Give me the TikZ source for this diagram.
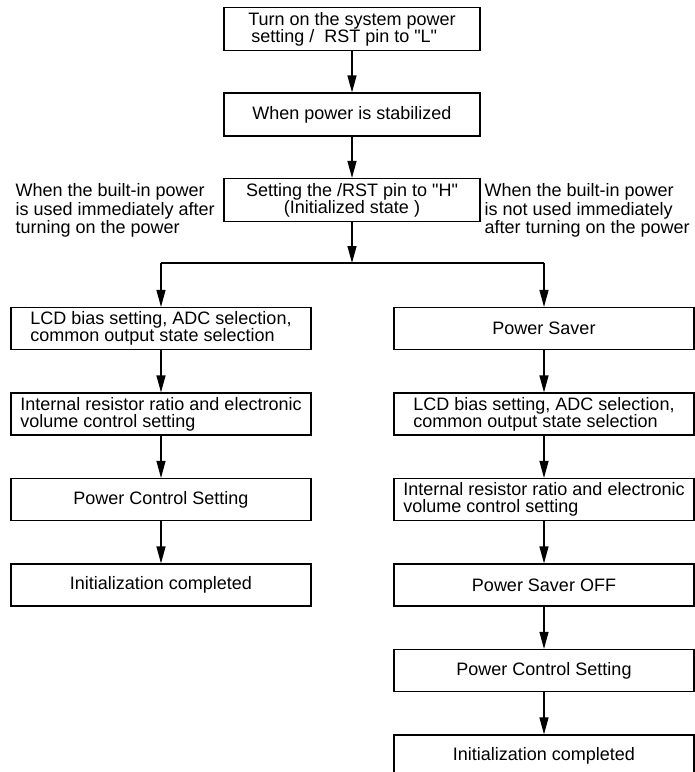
\documentclass[tikz,border=0pt]{standalone}
\usepackage{fontspec}
\setmainfont{Liberation Sans}
\usetikzlibrary{arrows.meta, positioning}

\begin{document}
\begin{tikzpicture}[
  x=0.5pt, y=-0.5pt, line width=0.6pt,
  every node/.style={font=\fontsize{9}{8.6}\selectfont},
  mainbox/.style={draw, minimum width=128pt, minimum height=21.5pt,
                  inner sep=2pt, align=center},
  colbox/.style={draw, minimum width=150pt, minimum height=21pt,
                 inner sep=2pt, align=center},
  note/.style={anchor=north west, inner sep=0pt, align=left,
               font=\fontsize{9}{9.2}\selectfont},
  >={Triangle[length=8.5pt, width=4.5pt]}
]
\useasboundingbox (0,0) rectangle (695,772);

% Common start
\node[mainbox, align=left] (poweron) at (352, 29)
  {Turn on the system power\\\hspace{1.5pt}setting /\ \ RST pin to \textquotedbl L\textquotedbl};
\node[mainbox] (stable) at (352, 114.5) {When power is stabilized};
\node[mainbox] (reset) at (352, 200)
  {Setting the /RST pin to \textquotedbl H\textquotedbl\\(Initialized state )};

\node[note] (usednote) at (15, 183)
  {When the built-in power\\is used immediately after\\turning on the power};
\node[note] (unusednote) at (484, 183)
  {When the built-in power\\is not used immediately\\after turning on the power};

% Branch point
\coordinate (split)  at (352, 263);
\coordinate (splitL) at (161, 263);
\coordinate (splitR) at (544, 263);

% Left branch
\node[colbox, align=left] (lcdL) at (161, 328.5)
  {LCD bias setting, ADC selection,\\common output state selection};
\node[colbox, align=left] (volL) at (161, 414)
  {Internal resistor ratio and electronic\\volume control setting};
\node[colbox] (pctrlL) at (161, 499.5) {Power Control Setting};
\node[colbox] (doneL)  at (161, 585) {Initialization completed};

% Right branch
\node[colbox] (saver) at (544, 328.5) {Power Saver};
\node[colbox, align=left] (lcdR) at (544, 414)
  {LCD bias setting, ADC selection,\\common output state selection};
\node[colbox, align=left] (volR) at (544, 499.5)
  {Internal resistor ratio and electronic\\volume control setting};
\node[colbox] (saveroff) at (544, 585) {Power Saver OFF};
\node[colbox] (pctrlR)   at (544, 670.5) {Power Control Setting};
\node[colbox] (doneR)    at (544, 756) {Initialization completed};

% Connectors
\draw[->] (reset) -- (split);
\draw (splitL) -- (splitR);
\draw[->] (splitL) -- (lcdL);
\draw[->] (splitR) -- (saver);

\foreach \a/\b in {poweron/stable, stable/reset,
                   lcdL/volL, volL/pctrlL, pctrlL/doneL,
                   saver/lcdR, lcdR/volR, volR/saveroff,
                   saveroff/pctrlR, pctrlR/doneR}
  \draw[->] (\a) -- (\b);

\end{tikzpicture}
\end{document}
